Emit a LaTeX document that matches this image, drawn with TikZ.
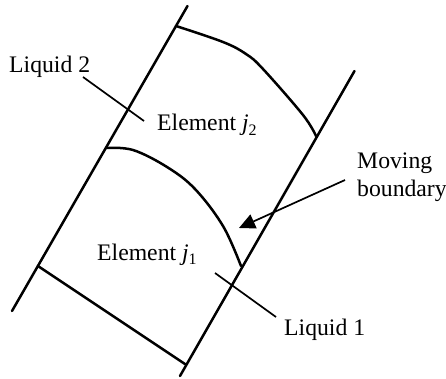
\documentclass[tikz,border=0pt]{standalone}
\usepackage{fontspec}
\setmainfont{Liberation Serif}
\usetikzlibrary{arrows.meta}
\tikzset{
  wall/.style={line width=2.5pt,line cap=round},
  leader/.style={line width=1.7pt},
  lbl/.style={anchor=base west,inner sep=0pt,font=\fontsize{23.7}{27}\selectfont},
}
\begin{document}
\begin{tikzpicture}[x=1pt,y=-1pt]
\useasboundingbox (0,0) rectangle (446,378);
% walls
\coordinate (lt) at (187.5,6);
\coordinate (lb) at (12,311);
\coordinate (rt) at (354.5,71);
\coordinate (rb) at (180,376);
\coordinate (bl) at (38,266);
\coordinate (br) at (185,364);
\coordinate (t1) at (176,26);
\coordinate (t2) at (316,136);
\coordinate (m1) at (106,148);
\coordinate (m2) at (241,266);
\draw[wall] (lt) -- (lb);
\draw[wall] (rt) -- (rb);
\draw[wall] (bl) -- (br);
\draw[wall] plot[smooth,tension=0.6] coordinates {(176,26) (223,42) (246,54) (263,69) (303,115) (316,136)};
\draw[wall] plot[smooth,tension=0.6] coordinates {(106,148) (133,150) (167,167) (195,189) (223,226) (241,266)};
% text
\node[lbl] (liq2) at (9,72) {Liquid 2};
\node[lbl] (el2) at (157,130.5) {Element \textit{j}\raisebox{-0.2em}{\fontsize{16}{16}\selectfont 2}};
\node[lbl] (mov) at (357,168) {Moving};
\node[lbl] (bnd) at (357,196) {boundary};
\node[lbl] (el1) at (97,260) {Element \textit{j}\raisebox{-0.2em}{\fontsize{16}{16}\selectfont 1}};
\node[lbl] (liq1) at (284,335) {Liquid 1};
% leaders
\coordinate (a1) at (83,77);
\coordinate (a2) at (144,121);
\coordinate (b1) at (215,273);
\coordinate (b2) at (276,317);
\coordinate (c1) at (345,180);
\coordinate (c2) at (239,228);
\draw[leader] (a1) -- (a2);
\draw[leader] (b1) -- (b2);
\draw[leader,-{Triangle[length=16pt,width=15pt]}] (c1) -- (c2);
\end{tikzpicture}
\end{document}
